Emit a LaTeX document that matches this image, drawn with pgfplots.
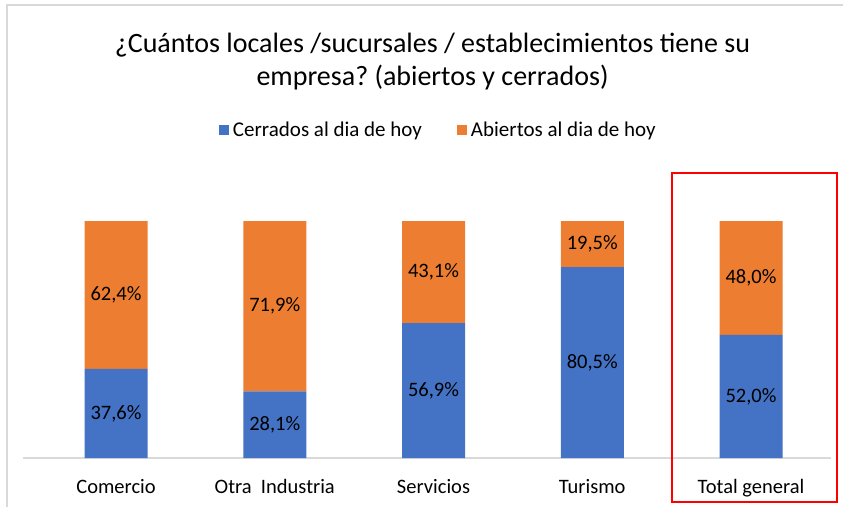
\documentclass[border=0pt]{standalone}
\usepackage{fontspec}
\setmainfont{Carlito}
\usepackage{pgfplots}
\pgfplotsset{compat=1.18}
\definecolor{cblue}{HTML}{4472C4}
\definecolor{corange}{HTML}{ED7D31}
\definecolor{cgrid}{HTML}{D9D9D9}
\frenchspacing
\begin{document}
\begin{tikzpicture}[x=1pt,y=1pt]
\path[use as bounding box] (0,0) rectangle (843,507);
\draw[cgrid, line width=2pt] (7,0) -- (7,502) -- (843,502);
\begin{axis}[
  at={(23pt,49pt)}, anchor=south west,
  scale only axis, width=808pt, height=237pt,
  ybar stacked, bar width=63pt,
  ymin=0, ymax=100, xmin=-0.586, xmax=4.504,
  axis x line=bottom, axis y line=none,
  x axis line style={cgrid, line width=1.5pt, -},
  xtick={0,1,2,3,4},
  xticklabels={Comercio, Otra\ \ Industria, Servicios, Turismo, Total general},
  major tick length=0pt,
  xticklabel style={font=\fontsize{20.5}{24}\selectfont, yshift=-18pt},
  ytick=\empty,
  /pgf/number format/assume math mode=true,
  legend style={at={(0.514,1.384)}, anchor=center, draw=none, fill=none,
    legend columns=2, font=\fontsize{21}{24}\selectfont,
    /tikz/every odd column/.append style={column sep=2pt},
    /tikz/every even column/.append style={column sep=33pt}},
  legend image code/.code={\fill[#1,draw=none] (0pt,-5pt) rectangle (10pt,5pt);},
  visualization depends on={rawy \as \rawy},
  nodes near coords={\pgfmathprintnumber[fixed,fixed zerofill,precision=1,use comma]{\rawy}\%},
  every node near coord/.append style={anchor=center, font=\fontsize{20.5}{24}\selectfont, text=black},
]
\addplot[fill=cblue, draw=none] coordinates {(0,37.6) (1,28.1) (2,56.9) (3,80.5) (4,52.0)};
\addplot[fill=corange, draw=none] coordinates {(0,62.4) (1,71.9) (2,43.1) (3,19.5) (4,48.0)};
\legend{Cerrados al dia de hoy, Abiertos al dia de hoy}
\end{axis}
\node[align=center, font=\fontsize{28}{33}\selectfont] at (432.5,445)
  {¿Cuántos locales /sucursales / establecimientos tiene su\\empresa? (abiertos y cerrados)};
\draw[red, line width=2pt] (672,5) rectangle (837,334);
\end{tikzpicture}
\end{document}
